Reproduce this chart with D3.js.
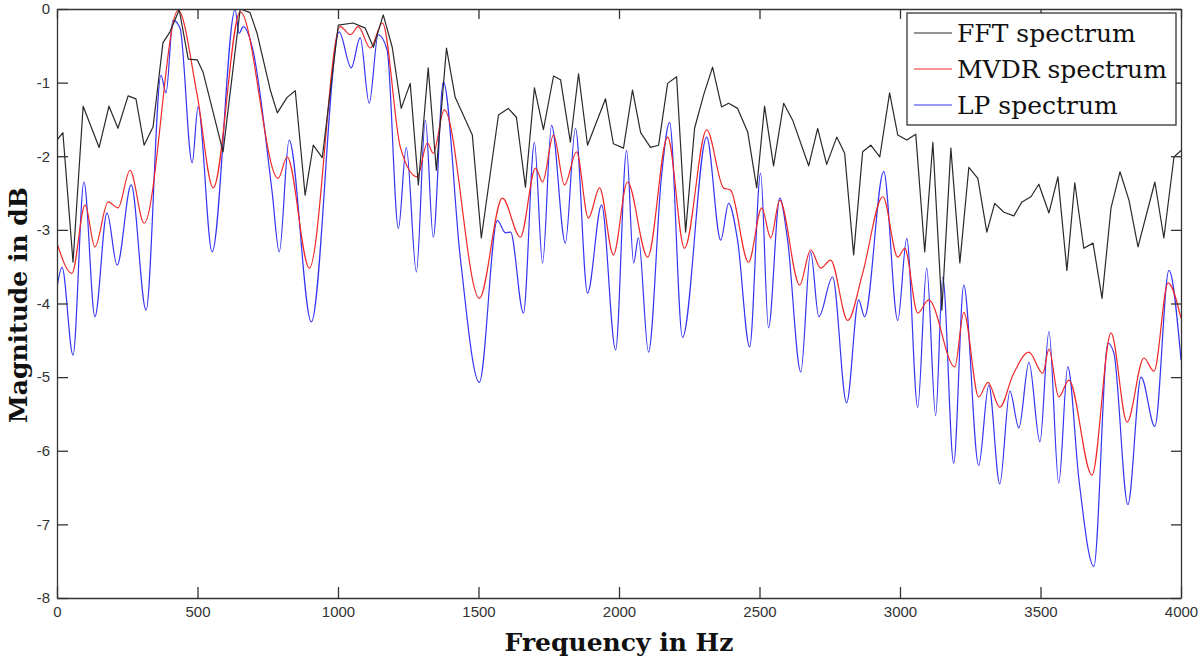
<!DOCTYPE html>
<html>
<head>
<meta charset="utf-8">
<script src="https://cdn.jsdelivr.net/npm/d3@7"></script>
<style>
   body { margin: 0; background: #fff; }
   svg { display: block; }
</style>
</head>
<body>
<svg id="chart"></svg>
<script>
// FFT spectrum (piecewise linear, bin vertices)
const fftFreq = [0, 21, 57, 93, 150, 185, 217, 253, 281, 310, 342, 377, 402, 435, 467, 499, 520, 591, 652, 687, 712, 759, 784, 819, 848, 883, 912, 944, 1001, 1054, 1097, 1126, 1161, 1193, 1225, 1257, 1286, 1321, 1350, 1386, 1417, 1478, 1510, 1571, 1606, 1635, 1667, 1699, 1731, 1767, 1792, 1827, 1856, 1888, 1952, 1980, 2016, 2048, 2077, 2112, 2141, 2173, 2205, 2237, 2269, 2301, 2333, 2365, 2390, 2422, 2458, 2490, 2518, 2550, 2586, 2618, 2675, 2707, 2739, 2775, 2803, 2835, 2867, 2896, 2928, 2963, 2992, 3024, 3056, 3088, 3117, 3149, 3181, 3213, 3245, 3277, 3309, 3337, 3370, 3405, 3434, 3466, 3494, 3530, 3562, 3594, 3622, 3654, 3687, 3719, 3751, 3783, 3815, 3847, 3907, 3939, 3975, 4000];
const fftDb = [-1.78, -1.68, -3.44, -1.32, -1.88, -1.32, -1.62, -1.18, -1.22, -1.85, -1.60, -0.46, -0.31, -0.01, -0.68, -0.69, -0.86, -1.94, 0, -0.05, -0.33, -1.10, -1.41, -1.20, -1.11, -2.53, -1.85, -2.02, -0.22, -0.19, -0.26, -0.52, -0.08, -0.52, -1.35, -1.01, -2.39, -0.80, -2.19, -0.53, -1.20, -1.71, -3.11, -1.44, -1.35, -1.47, -2.42, -1.07, -1.64, -0.91, -0.96, -1.81, -0.88, -1.85, -1.22, -1.83, -1.89, -1.10, -1.68, -1.88, -1.85, -1.01, -0.92, -3.03, -1.62, -1.17, -0.79, -1.33, -1.28, -1.35, -1.67, -2.43, -1.32, -2.13, -1.28, -1.51, -2.13, -1.62, -2.11, -1.74, -1.96, -3.34, -1.94, -1.85, -2.01, -1.14, -1.71, -1.78, -1.70, -3.30, -1.81, -4.09, -1.89, -3.45, -2.15, -2.30, -3.03, -2.64, -2.76, -2.81, -2.62, -2.55, -2.38, -2.77, -2.28, -3.55, -2.36, -3.25, -3.18, -3.93, -2.70, -2.21, -2.60, -3.23, -2.35, -3.11, -2.01, -1.92];

// MVDR spectrum (peaks and troughs)
const mvdrFreq = [0, 53, 100, 135, 182, 217, 260, 310, 431, 499, 556, 652, 787, 819, 898, 1008, 1044, 1072, 1115, 1158, 1222, 1282, 1318, 1339, 1378, 1503, 1585, 1649, 1703, 1728, 1767, 1806, 1849, 1891, 1931, 1980, 2030, 2102, 2173, 2233, 2312, 2372, 2397, 2461, 2508, 2540, 2572, 2643, 2682, 2718, 2753, 2814, 2867, 2939, 2992, 3017, 3063, 3102, 3195, 3227, 3280, 3313, 3355, 3402, 3459, 3508, 3530, 3565, 3601, 3683, 3751, 3808, 3868, 3904, 3954, 4000];
const mvdrDb = [-3.18, -3.59, -2.66, -3.23, -2.62, -2.70, -2.19, -2.91, -0.02, -1.17, -2.43, -0.04, -2.30, -2.01, -3.52, -0.24, -0.35, -0.24, -0.53, -0.19, -1.88, -2.28, -1.82, -1.96, -1.37, -3.93, -2.57, -3.10, -2.16, -2.35, -1.71, -2.39, -1.94, -2.84, -2.43, -3.34, -2.35, -3.37, -1.74, -3.25, -1.64, -2.43, -2.46, -3.44, -2.70, -3.11, -2.60, -3.75, -3.27, -3.52, -3.41, -4.23, -3.59, -2.55, -3.37, -3.25, -4.13, -3.95, -4.86, -4.12, -5.27, -5.07, -5.41, -4.97, -4.66, -4.95, -4.62, -5.27, -5.04, -6.33, -4.40, -5.61, -4.74, -4.92, -3.72, -4.20];

// LP spectrum (peaks and troughs)
const lpFreq = [0, 18, 57, 96, 135, 178, 214, 264, 317, 370, 388, 413, 438, 481, 502, 552, 634, 648, 663, 695, 766, 791, 826, 905, 1004, 1047, 1079, 1111, 1143, 1175, 1215, 1243, 1279, 1311, 1339, 1375, 1435, 1503, 1567, 1596, 1614, 1660, 1699, 1728, 1760, 1809, 1845, 1888, 1938, 1988, 2027, 2052, 2069, 2105, 2151, 2180, 2226, 2312, 2362, 2390, 2422, 2465, 2504, 2532, 2572, 2600, 2647, 2682, 2711, 2760, 2810, 2853, 2874, 2942, 2992, 3024, 3063, 3095, 3127, 3152, 3191, 3227, 3280, 3316, 3355, 3391, 3423, 3459, 3498, 3530, 3565, 3597, 3637, 3690, 3740, 3761, 3811, 3858, 3907, 3957, 4000];
const lpDb = [-3.78, -3.51, -4.70, -2.35, -4.18, -2.77, -3.48, -2.39, -4.09, -0.90, -1.14, -0.15, -0.26, -2.09, -1.33, -3.30, -0.01, -0.33, -0.24, -0.52, -2.50, -3.30, -1.78, -4.25, -0.31, -0.80, -0.39, -1.28, -0.35, -0.56, -2.98, -1.88, -3.57, -1.51, -3.10, -0.99, -3.37, -5.07, -2.87, -3.04, -3.03, -4.13, -1.81, -3.45, -1.58, -3.18, -1.62, -3.86, -2.66, -4.63, -1.92, -3.45, -3.11, -4.66, -2.28, -1.54, -4.46, -1.74, -3.14, -2.64, -3.14, -4.59, -2.23, -4.33, -2.57, -3.14, -4.93, -3.30, -4.18, -3.64, -5.35, -3.95, -4.18, -2.21, -4.23, -3.12, -5.41, -3.52, -5.52, -3.64, -6.17, -3.75, -6.20, -5.11, -6.45, -5.19, -5.69, -4.80, -5.88, -4.38, -6.44, -4.86, -6.40, -7.57, -4.54, -4.67, -6.73, -5.00, -5.67, -3.55, -4.77];

const xTicks = [0, 500, 1000, 1500, 2000, 2500, 3000, 3500, 4000];
const yTicks = [0, -1, -2, -3, -4, -5, -6, -7, -8];
const legendLabels = ['FFT spectrum', 'MVDR spectrum', 'LP spectrum'];

const WIDTH = 1200,
      HEIGHT = 661,
      MARGINS = { top: 9, right: 19, bottom: 63, left: 57 };

const COLORS = ['#2a2a2a', '#f02828', '#3434f4'];

const svg = d3.select('#chart')
   .attr('width', WIDTH)
   .attr('height', HEIGHT);

const innerW = WIDTH - MARGINS.left - MARGINS.right,
      innerH = HEIGHT - MARGINS.top - MARGINS.bottom;

const x = d3.scaleLinear().domain([0, 4000]).range([0, innerW]);
const y = d3.scaleLinear().domain([-8, 0]).range([innerH, 0]);

const g = svg.append('g')
   .attr('transform', 'translate(' + MARGINS.left + ',' + MARGINS.top + ')');

g.append('clipPath')
   .attr('id', 'plot-clip')
   .append('rect')
   .attr('width', innerW)
   .attr('height', innerH);

const toPoints = (fs, vs) => fs.map((f, i) => ({ f: f, v: vs[i] }));

const series = [
   { pts: toPoints(fftFreq, fftDb), curve: d3.curveLinear },
   { pts: toPoints(mvdrFreq, mvdrDb), curve: d3.curveMonotoneX },
   { pts: toPoints(lpFreq, lpDb), curve: d3.curveMonotoneX }
];

// draw LP first, then MVDR, FFT on top
[2, 1, 0].forEach(i => {
   const line = d3.line()
      .x(d => x(d.f))
      .y(d => y(d.v))
      .curve(series[i].curve);
   g.append('path')
      .datum(series[i].pts)
      .attr('clip-path', 'url(#plot-clip)')
      .attr('fill', 'none')
      .attr('stroke', COLORS[i])
      .attr('stroke-width', 1.2)
      .attr('stroke-linejoin', 'round')
      .attr('d', line);
});

// axes, MATLAB style box with inward ticks
const plainNum = d => String(d);

const styleAxis = (sel) => {
   sel.select('.domain').attr('stroke', '#333').attr('stroke-width', 1.3);
   sel.selectAll('.tick line').attr('stroke', '#333').attr('stroke-width', 1.3);
   sel.selectAll('.tick text')
      .attr('fill', '#333')
      .style('font-family', '"Liberation Sans", Arial, sans-serif')
      .style('font-size', '15px');
};

g.append('g')
   .attr('transform', 'translate(0,' + innerH + ')')
   .call(d3.axisBottom(x).tickValues(xTicks).tickSize(-11).tickPadding(8).tickFormat(plainNum).tickSizeOuter(0))
   .call(styleAxis);

g.append('g')
   .call(d3.axisLeft(y).tickValues(yTicks).tickSize(-11).tickPadding(7).tickFormat(plainNum).tickSizeOuter(0))
   .call(styleAxis);

g.append('g')
   .call(d3.axisTop(x).tickValues(xTicks).tickSize(-10).tickFormat('').tickSizeOuter(0))
   .call(styleAxis);

g.append('g')
   .attr('transform', 'translate(' + innerW + ',0)')
   .call(d3.axisRight(y).tickValues(yTicks).tickSize(-10).tickFormat('').tickSizeOuter(0))
   .call(styleAxis);

// axis titles
svg.append('text')
   .attr('x', MARGINS.left + innerW / 2)
   .attr('y', 651)
   .attr('text-anchor', 'middle')
   .style('font-family', '"DejaVu Serif", serif')
   .style('font-weight', 'bold')
   .style('font-size', '25px')
   .attr('fill', '#111')
   .text('Frequency in Hz');

svg.append('text')
   .attr('transform', 'translate(27,305) rotate(-90)')
   .attr('text-anchor', 'middle')
   .style('font-family', '"DejaVu Serif", serif')
   .style('font-weight', 'bold')
   .style('font-size', '25px')
   .attr('fill', '#111')
   .text('Magnitude in dB');

// legend
const legend = svg.append('g')
   .attr('transform', 'translate(907,13)');

legend.append('rect')
   .attr('width', 269)
   .attr('height', 112)
   .attr('fill', '#fff')
   .attr('stroke', '#333')
   .attr('stroke-width', 1.3);

legendLabels.forEach((label, i) => {
   const row = legend.append('g')
      .attr('transform', 'translate(0,' + (20 + i * 36) + ')');
   row.append('line')
      .attr('x1', 7)
      .attr('x2', 45)
      .attr('stroke', COLORS[i])
      .attr('stroke-width', 1.2);
   row.append('text')
      .attr('x', 50)
      .attr('y', 9)
      .style('font-family', '"DejaVu Serif", serif')
      .style('font-size', '25px')
      .attr('fill', '#111')
      .text(label);
});
</script>
</body>
</html>
